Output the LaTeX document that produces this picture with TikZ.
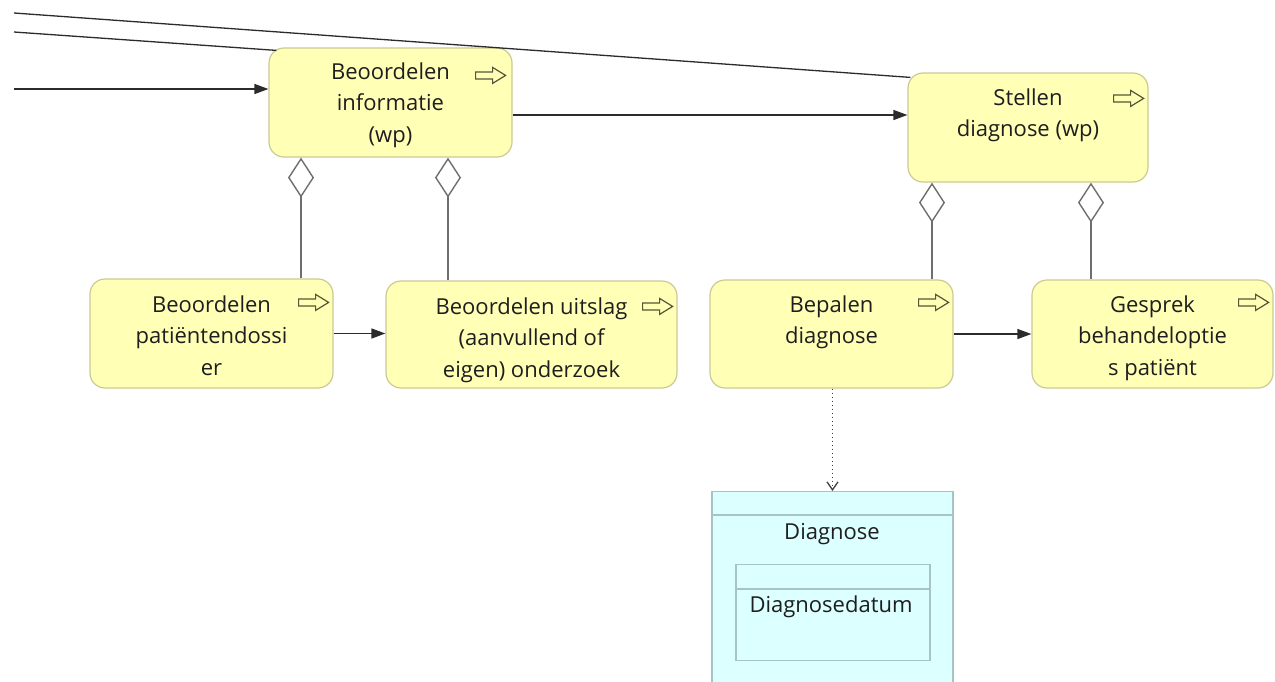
\documentclass[tikz,border=0pt]{standalone}
\usepackage{fontspec}
\setmainfont{Open Sans}
\usetikzlibrary{arrows.meta,calc}
\definecolor{procfill}{HTML}{FFFFB5}
\definecolor{procline}{HTML}{CACA92}
\definecolor{iconline}{HTML}{55553A}
\definecolor{datafill}{HTML}{DCFFFF}
\definecolor{dataline}{HTML}{A6C4C4}
\definecolor{ink}{HTML}{1E1E1E}
\definecolor{wire}{HTML}{2B2B2B}
\definecolor{aggline}{HTML}{6E6E6E}

\begin{document}
\begin{tikzpicture}[x=1pt,y=-1pt,
  proc/.style={draw=procline, fill=procfill, line width=1.2pt, rounded corners=15pt,
    inner sep=0pt, minimum height=109pt},
  boxtext/.style={anchor=north, inner sep=0pt, align=center, text=ink,
    font=\fontsize{22}{31.5}\selectfont},
  linetext/.style={anchor=base, inner sep=0pt, text=ink, font=\fontsize{22}{31.5}\selectfont},
  flow/.style={draw=wire, line width=1.3pt, -{Triangle[length=14pt,width=10pt]}},
  plain/.style={draw=wire, line width=1.3pt},
  aggr/.style={draw=aggline, line width=1.4pt, -{Diamond[open,length=40pt,width=26pt]}},
  access/.style={draw=black!75, line width=1.8pt, dash pattern=on 1.8pt off 2.2pt,
    -{Straight Barb[length=8pt,width=11pt,line width=1.3pt]}},
  procicon/.pic={\draw[line width=1.2pt, draw=iconline, line join=miter]
    (-15,-3.5) -- (2,-3.5) -- (2,-8) -- (15,0) -- (2,8) -- (2,3.5) -- (-15,3.5) -- cycle;}
]
\clip (0,0) rectangle (1275,681);

% process boxes
\node[proc, minimum width=243pt] (a) at (390.5,102.5) {};
\node[proc, minimum width=240pt] (b) at (1028,127.5) {};
\node[proc, minimum width=243pt] (c) at (211.5,333.5) {};
\node[proc, minimum width=291pt, minimum height=107pt] (d) at (531.5,334.5) {};
\node[proc, minimum width=243pt, minimum height=108pt] (e) at (831.5,334) {};
\node[proc, minimum width=241pt, minimum height=108pt] (f) at (1152.5,334) {};

\node[boxtext] (a-txt) at ($(a.north)+(0,15)$) {Beoordelen\\informatie\\(wp)};
\node[boxtext] (b-txt) at ($(b.north)+(0,16)$) {Stellen\\diagnose (wp)};
\node[boxtext] (c-txt) at ($(c.north)+(0,17)$) {Beoordelen\\patiëntendossi\\er};
\node[boxtext] (d-txt) at ($(d.north)+(0,17)$) {Beoordelen uitslag\\(aanvullend of\\eigen) onderzoek};
\node[boxtext] (e-txt) at ($(e.north)+(0,16)$) {Bepalen\\diagnose};
\node[boxtext] (f-txt) at ($(f.north)+(0,16)$) {Gesprek\\behandeloptie\\s patiënt};

\pic at ($(a.north east)+(-22,28)$) {procicon};
\pic at ($(b.north east)+(-20,26)$) {procicon};
\pic at ($(c.north east)+(-20,24)$) {procicon};
\pic at ($(d.north east)+(-20,26)$) {procicon};
\pic at ($(e.north east)+(-20,23)$) {procicon};
\pic at ($(f.north east)+(-20,23)$) {procicon};

% data object with its attribute compartment
\node[draw=dataline, fill=datafill, line width=1.2pt, minimum width=241pt,
  minimum height=209pt, inner sep=0pt, anchor=north] (dg) at (832.5,491) {};
\draw[dataline, line width=1.2pt] ($(dg.north west)+(0,24)$) -- ($(dg.north east)+(0,24)$);
\node[linetext] (dg-txt) at (832,539.5) {Diagnose};
\node[draw=dataline, line width=1.2pt, minimum width=194pt, minimum height=96pt,
  inner sep=0pt, anchor=north] (attr) at (833,564) {};
\draw[dataline, line width=1.2pt] ($(attr.north west)+(0,25)$) -- ($(attr.north east)+(0,25)$);
\node[linetext] (attr-txt) at (831,612.5) {Diagnosedatum};

% incoming connectors
\coordinate (inA) at (14,89);
\coordinate (inB) at (14,13);
\coordinate (inC) at (14,32);
\draw[flow] (inA) -- (inA -| a.west);
\draw[plain] (inB) -- ($(b.north west)+(3,5)$);
\draw[plain] (inC) -- ($(a.north west)+(8,3)$);

% triggering flows
\coordinate (ab) at (0,115);
\draw[flow] (a.east |- ab) -- (b.west |- ab);
\draw[flow] (c.east) -- (c.east -| d.west);
\draw[flow] (e.east) -- (e.east -| f.west);

% aggregations
\coordinate (x1) at (301,0);
\coordinate (x2) at (448,0);
\coordinate (x3) at (932,0);
\coordinate (x4) at (1091,0);
\draw[aggr] (c.north -| x1) -- (a.south -| x1);
\draw[aggr] (d.north -| x2) -- (a.south -| x2);
\draw[aggr] (e.north -| x3) -- (b.south -| x3);
\draw[aggr] (f.north -| x4) -- (b.south -| x4);

% access
\draw[access] (e.south -| dg.north) -- (dg.north);
\end{tikzpicture}
\end{document}
